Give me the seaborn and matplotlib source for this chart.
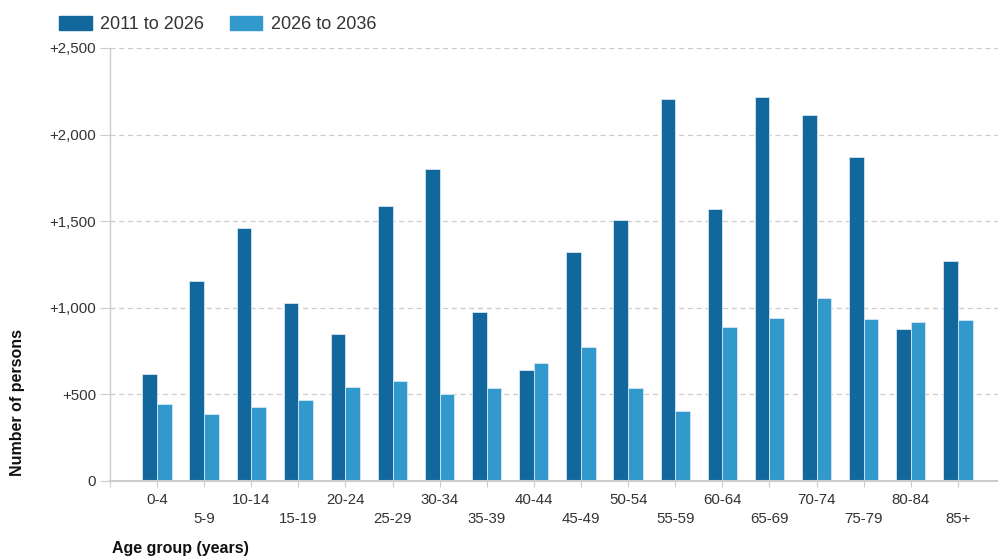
import matplotlib
matplotlib.use('Agg')
import matplotlib.pyplot as plt
import seaborn as sns
import pandas as pd
from matplotlib.ticker import FuncFormatter

# Datos
age_groups = ['0-4', '5-9', '10-14', '15-19', '20-24', '25-29', '30-34', '35-39',
              '40-44', '45-49', '50-54', '55-59', '60-64', '65-69', '70-74',
              '75-79', '80-84', '85+']
change_2011_2026 = [616, 1157, 1459, 1030, 847, 1586, 1801, 975,
                    641, 1324, 1507, 2206, 1570, 2215, 2111, 1872, 879, 1268]
change_2026_2036 = [443, 385, 425, 466, 545, 577, 504, 537,
                    679, 776, 537, 402, 887, 943, 1055, 934, 918, 928]
series_names = ['2011 to 2026', '2026 to 2036']
y_ticks = [0, 500, 1000, 1500, 2000, 2500]

DARK = '#12689c'
LIGHT = '#3199cc'

df = pd.DataFrame({
    'age': age_groups * 2,
    'value': change_2011_2026 + change_2026_2036,
    'periodo': [series_names[0]] * len(age_groups) + [series_names[1]] * len(age_groups),
})

sns.set_theme(style='white')
plt.rcParams['font.family'] = ['Liberation Sans', 'DejaVu Sans']

fig = plt.figure(figsize=(9.98, 5.58), dpi=100)
ax = fig.add_axes([0.110, 0.138, 0.890, 0.776])

sns.barplot(data=df, x='age', y='value', hue='periodo', order=age_groups,
            hue_order=series_names, palette=[DARK, LIGHT], width=0.62,
            saturation=1, edgecolor='#d6e6f2', linewidth=0.6, ax=ax, legend=False)

ax.set_xlim(-1, 17.85)
ax.set_ylim(0, 2500)
ax.set_yticks(y_ticks)
ax.yaxis.set_major_formatter(FuncFormatter(lambda v, p: '0' if v == 0 else f'+{int(v):,}'))
ax.yaxis.grid(True, linestyle=(0, (4, 3)), color='#cccccc', linewidth=0.9)
ax.set_axisbelow(True)

ticks = list(range(-1, len(age_groups)))
labels = [''] + [lab if i % 2 == 0 else '\n' + lab for i, lab in enumerate(age_groups)]
ax.set_xticks(ticks)
ax.set_xticklabels(labels)
for t in ax.get_xticklabels():
    t.set_linespacing(1.45)

for s in ['top', 'right']:
    ax.spines[s].set_visible(False)
ax.spines['bottom'].set_color('#cccccc')
ax.spines['bottom'].set_linewidth(1.5)
ax.spines['left'].set_color('#cccccc')
ax.spines['left'].set_linewidth(1.0)

ax.tick_params(axis='x', length=4, width=0.8, color='#cccccc', labelsize=10.8,
               labelcolor='#333333', pad=5, bottom=True)
ax.tick_params(axis='y', length=7, width=0.8, color='#cccccc', labelsize=10.8,
               labelcolor='#333333', pad=3, left=True)
ax.set_xlabel('')
ax.set_ylabel('')

fig.text(18 / 998, 1 - 402 / 558, 'Number of persons', rotation=90, ha='center',
         va='center', fontsize=11.5, fontweight='bold', color='#111111')
fig.text(112 / 998, 1 - 548 / 558, 'Age group (years)', ha='left', va='center',
         fontsize=11.5, fontweight='bold', color='#111111')

handles = [plt.Rectangle((0, 0), 1, 1, color=DARK), plt.Rectangle((0, 0), 1, 1, color=LIGHT)]
fig.legend(handles, series_names, loc='upper left', bbox_to_anchor=(0.043, 1.0),
           ncol=2, frameon=False, fontsize=13, handlelength=1.8, handleheight=0.8,
           handletextpad=0.45, columnspacing=1.45, labelcolor='#333333')

fig.savefig('out.png', dpi=100)
